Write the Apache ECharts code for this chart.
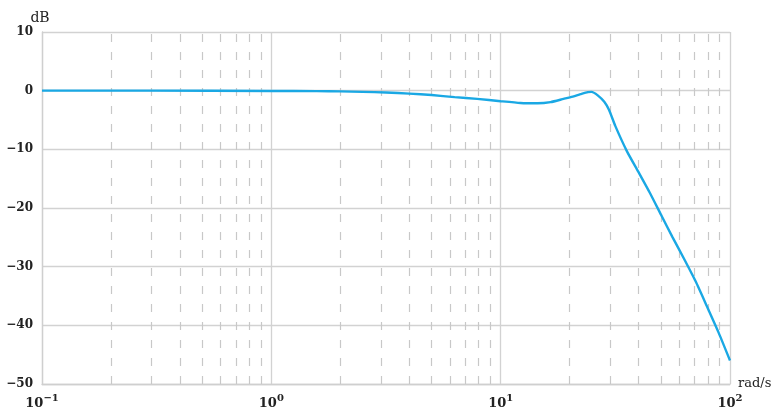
<!DOCTYPE html>
<html>
<head>
<meta charset="utf-8">
<script src="https://cdn.jsdelivr.net/npm/echarts@6/dist/echarts.min.js"></script>
<style>
html,body{margin:0;padding:0;background:#fff;}
#c{width:775px;height:411px;}
</style>
</head>
<body>
<div id="c"></div>
<script>
// Frequencies (rad/s) and magnitude (dB)
const freq = [0.1, 0.3, 1, 1.58, 2, 2.5, 3.16, 4, 5, 6.3, 7.9, 10, 12.2, 14.5, 16.5, 18.8, 20.2, 22.3, 24, 24.9, 26.5, 28.3, 29.7, 31.6, 35.5, 39.8, 44.7, 50.1, 56.2, 63.1, 70.8, 79.4, 89.1, 100];
const magDb = [0, 0, -0.05, -0.08, -0.12, -0.2, -0.32, -0.5, -0.75, -1.1, -1.4, -1.8, -2.1, -2.15, -1.95, -1.4, -1.1, -0.6, -0.25, -0.2, -0.8, -1.9, -3.3, -6, -10.3, -13.8, -17.4, -21.2, -25, -28.7, -32.5, -36.8, -41.2, -46];
// Minor (dashed) grid positions
const minorGrid = [0.2,0.3,0.4,0.5,0.6,0.7,0.8,0.9, 2,3,4,5,6,7,8,9, 20,30,40,50,60,70,80,90];
const yTicks = {min: -50, max: 10, step: 10};
const xRange = {min: 0.1, max: 100};

const serif = '"DejaVu Serif", "Liberation Serif", serif';
const chart = echarts.init(document.getElementById('c'));
const supMap = {'-1':'−1','0':'0','1':'1','2':'2'};
chart.setOption({
  animation: false,
  grid: {left: 42, right: 45, top: 32, bottom: 27, containLabel: false, outerBoundsMode: 'none'},
  xAxis: {
    type: 'log', logBase: 10, min: xRange.min, max: xRange.max,
    name: 'rad/s', nameLocation: 'end', nameGap: 8,
    nameTextStyle: {fontFamily: serif, fontSize: 13, color: '#222', verticalAlign: 'middle', padding: [0,0,0,0]},
    axisLine: {onZero: false, lineStyle: {color: '#cfcfcf', width: 1.3}},
    axisTick: {show: false},
    splitLine: {show: true, lineStyle: {color: '#d2d2d2', width: 1.3}},
    axisLabel: {
      margin: 9,
      formatter: function(v){ const e = Math.round(Math.log10(v)); return '{b|10}{s|' + (supMap[String(e)] || e) + '}'; },
      rich: {
        b: {fontFamily: serif, fontSize: 13, fontWeight: 'bold', color: '#222', verticalAlign: 'bottom'},
        s: {fontFamily: serif, fontSize: 10, fontWeight: 'bold', color: '#222', verticalAlign: 'bottom', padding: [0,0,7,0]}
      }
    }
  },
  yAxis: {
    type: 'value', min: yTicks.min, max: yTicks.max, interval: yTicks.step,
    name: 'dB', nameLocation: 'end', nameGap: 7,
    nameTextStyle: {fontFamily: serif, fontSize: 14, color: '#222', align: 'center', padding: [0,4,0,0]},
    axisLine: {show: true, lineStyle: {color: '#cfcfcf', width: 1.3}},
    axisTick: {show: false},
    splitLine: {show: true, lineStyle: {color: '#d2d2d2', width: 1.3}},
    axisLabel: {
      margin: 9, fontFamily: serif, fontSize: 12, fontWeight: 'bold', color: '#222',
      formatter: function(v){ return v < 0 ? '−' + Math.abs(v) : String(v); }
    }
  },
  series: [{
    type: 'line',
    data: freq.map((f, i) => [f, magDb[i]]),
    smooth: 0.2,
    symbol: 'none',
    lineStyle: {color: '#1aa8e4', width: 2.4},
    z: 5,
    markLine: {
      silent: true, symbol: 'none', label: {show: false},
      lineStyle: {color: '#c8c8c8', width: 1.2, type: [8, 10]},
      data: minorGrid.map(v => ({xAxis: v})),
      z: 1
    }
  }]
});
</script>
</body>
</html>
